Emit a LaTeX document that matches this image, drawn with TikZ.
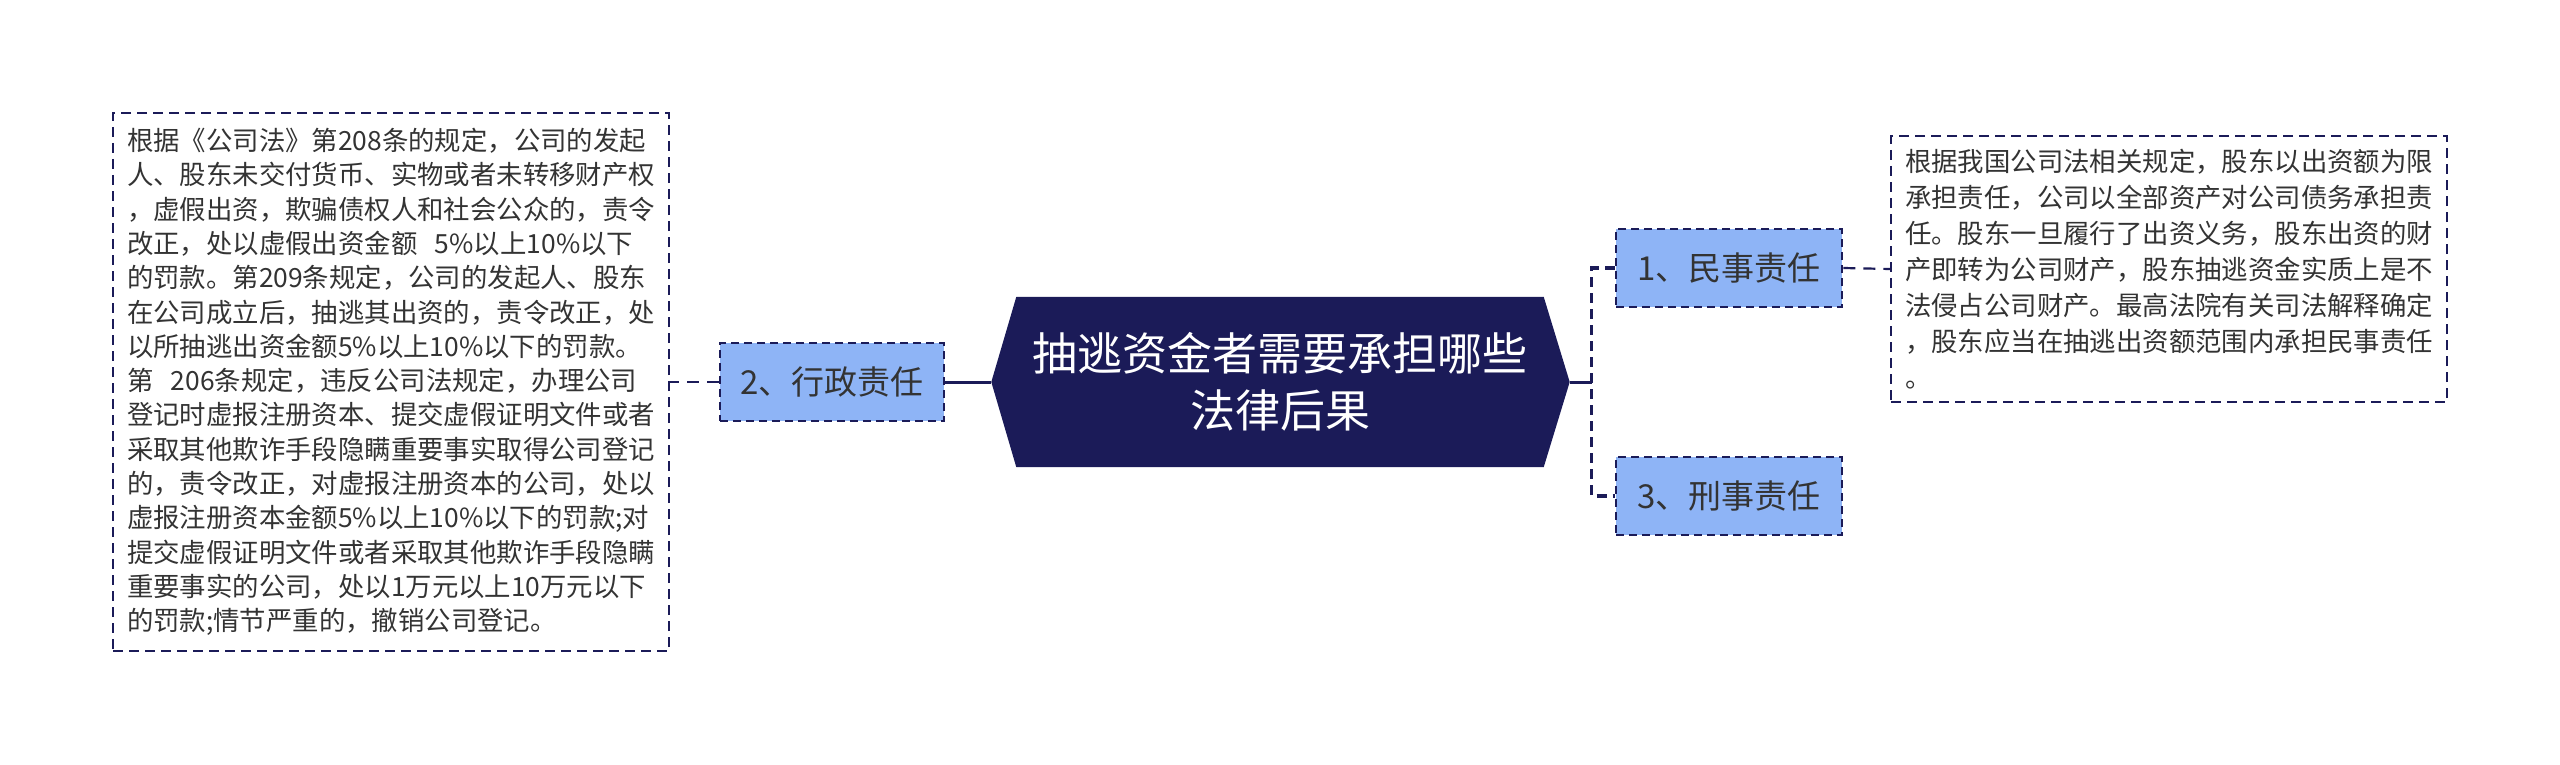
\documentclass[tikz,border=0pt]{standalone}
\usepackage{fontspec}
\setmainfont{Noto Sans CJK SC}
\usepackage{xcolor}
\usetikzlibrary{positioning,backgrounds}

\definecolor{navy}{RGB}{27,27,88}
\definecolor{lightblue}{RGB}{142,180,246}
\definecolor{textgray}{RGB}{51,51,51}

\begin{document}
\begin{tikzpicture}[x=1pt,y=-1pt,
  topicbox/.style={fill=lightblue, draw=navy, line width=2.6pt, dash pattern=on 8pt off 5pt,
    text=textgray, font=\fontsize{33}{40}\selectfont,
    minimum width=226pt, minimum height=78pt, inner sep=0pt},
  notebox/.style={draw=navy, line width=2pt, dash pattern=on 10pt off 6pt,
    text=textgray, align=left, inner xsep=14pt, text width=528pt},
  dashlink/.style={draw=navy, line width=2.2pt, dash pattern=on 12pt off 8pt},
  forklink/.style={draw=navy, line width=3.5pt, dash pattern=on 10pt off 6pt},
  solidlink/.style={draw=navy, line width=3pt}]

\useasboundingbox (0,0) rectangle (2560,765);

\node (root) at (1280,382) [minimum width=527pt, minimum height=170pt, text=white,
  align=center, font=\fontsize{45}{57}\selectfont] {抽逃资金者需要承担哪些\\法律后果};
\coordinate (rootleft) at ([xshift=-25pt]root.west);
\coordinate (rootright) at ([xshift=26pt]root.east);
\begin{scope}[on background layer]
  \fill[navy] (rootleft) -- (root.north west) -- (root.north east) -- (rootright)
    -- (root.south east) -- (root.south west) -- cycle;
\end{scope}

\node (law2) at (832,382) [topicbox, minimum width=224pt] {2、行政责任};
\node (law1) at (1729,268) [topicbox] {1、民事责任};
\node (law3) at (1729,496) [topicbox] {3、刑事责任};

\node (note2) at (391,382) [notebox, minimum height=538pt, font=\fontsize{26.4}{34.3}\selectfont]
  {根据《公司法》第208条的规定，公司的发起\\
   人、股东未交付货币、实物或者未转移财产权\\
   ，虚假出资，欺骗债权人和社会公众的，责令\\
   改正，处以虚假出资金额~~5\%以上10\%以下\\
   的罚款。第209条规定，公司的发起人、股东\\
   在公司成立后，抽逃其出资的，责令改正，处\\
   以所抽逃出资金额5\%以上10\%以下的罚款。\\
   第~~206条规定，违反公司法规定，办理公司\\
   登记时虚报注册资本、提交虚假证明文件或者\\
   采取其他欺诈手段隐瞒重要事实取得公司登记\\
   的，责令改正，对虚报注册资本的公司，处以\\
   虚报注册资本金额5\%以上10\%以下的罚款;对\\
   提交虚假证明文件或者采取其他欺诈手段隐瞒\\
   重要事实的公司，处以1万元以上10万元以下\\
   的罚款;情节严重的，撤销公司登记。};

\node (note1) at (2169,269) [notebox, minimum height=266pt, font=\fontsize{26.4}{36}\selectfont]
  {根据我国公司法相关规定，股东以出资额为限\\
   承担责任，公司以全部资产对公司债务承担责\\
   任。股东一旦履行了出资义务，股东出资的财\\
   产即转为公司财产，股东抽逃资金实质上是不\\
   法侵占公司财产。最高法院有关司法解释确定\\
   ，股东应当在抽逃出资额范围内承担民事责任\\
   。};

% left branch
\draw[solidlink] (law2.east) -- (rootleft);
\draw[dashlink] (law2.west) -- (note2.east);

% right branch
\coordinate (fork) at ([xshift=22pt]rootright);
\draw[solidlink] (rootright) -- (fork);
\draw[forklink] (law1.west) -| (fork) |- (law3.west);
\draw[dashlink] (law1.east) -- (note1.west);

\end{tikzpicture}
\end{document}
